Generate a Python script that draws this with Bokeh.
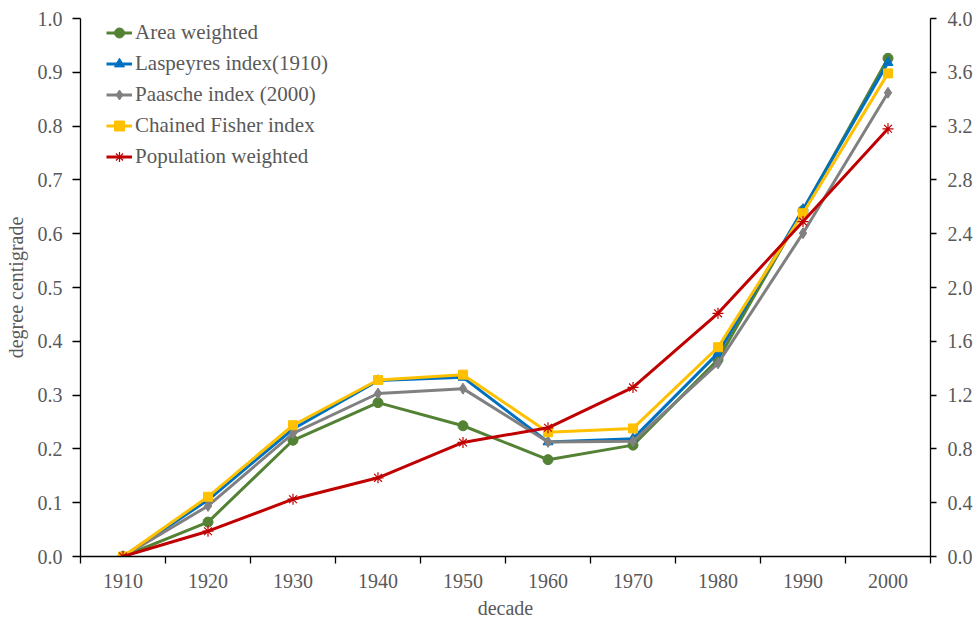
from bokeh.plotting import figure
from bokeh.models import Range1d, LinearAxis, FixedTicker, NumeralTickFormatter, Legend, LegendItem
from bokeh.embed import file_html
from bokeh.resources import INLINE

decades = [1910, 1920, 1930, 1940, 1950, 1960, 1970, 1980, 1990, 2000]
area = [0, 0.064, 0.216, 0.286, 0.243, 0.180, 0.207, 0.366, 0.643, 0.926]
lasp = [0, 0.105, 0.237, 0.327, 0.333, 0.213, 0.219, 0.378, 0.645, 0.918]
paasche = [0, 0.094, 0.229, 0.303, 0.312, 0.213, 0.214, 0.359, 0.601, 0.862]
fisher = [0, 0.111, 0.244, 0.328, 0.338, 0.231, 0.238, 0.389, 0.638, 0.898]
pop = [0, 0.188, 0.426, 0.585, 0.848, 0.957, 1.257, 1.808, 2.49, 3.18]

left_ticks = [round(i * 0.1, 1) for i in range(11)]
right_ticks = [round(i * 0.4, 1) for i in range(11)]
x_bounds = [1905 + 10 * i for i in range(11)]

FONT = "'Liberation Serif', 'Times New Roman', serif"
TXT = "#595959"
FS = "20px"

p = figure(width=976, height=631, output_backend="svg", toolbar_location=None,
           x_range=Range1d(1905, 2005), y_range=Range1d(0, 1.0),
           min_border_left=80, min_border_right=46, min_border_top=18, min_border_bottom=75)
p.extra_y_ranges = {"right": Range1d(0, 4.0)}
p.outline_line_color = None
p.xgrid.visible = False
p.ygrid.visible = False
p.background_fill_color = "white"

# x axis
xa = p.xaxis[0]
xa.ticker = FixedTicker(ticks=decades, minor_ticks=x_bounds)
xa.formatter = NumeralTickFormatter(format="0")
xa.major_tick_out = 0
xa.major_tick_in = 0
xa.minor_tick_out = 7
xa.minor_tick_in = 0
xa.minor_tick_line_color = "black"
xa.axis_line_color = "black"
xa.major_label_standoff = 10
xa.axis_label = "decade"
xa.axis_label_standoff = 6

# left y axis
ya = p.yaxis[0]
ya.ticker = FixedTicker(ticks=left_ticks)
ya.formatter = NumeralTickFormatter(format="0.0")
ya.major_tick_out = 8
ya.major_tick_in = 0
ya.minor_tick_line_color = None
ya.axis_line_color = "black"
ya.major_label_standoff = 10
ya.axis_label = "degree centigrade"
ya.axis_label_standoff = 8

# right y axis
ra = LinearAxis(y_range_name="right")
ra.ticker = FixedTicker(ticks=right_ticks)
ra.formatter = NumeralTickFormatter(format="0.0")
ra.major_tick_out = 6
ra.major_tick_in = 0
ra.minor_tick_line_color = None
ra.axis_line_color = "black"
ra.major_label_standoff = 11
p.add_layout(ra, "right")

for ax in [xa, ya, ra]:
    ax.major_label_text_font = FONT
    ax.major_label_text_font_size = FS
    ax.major_label_text_color = TXT
    ax.axis_label_text_font = FONT
    ax.axis_label_text_font_size = FS
    ax.axis_label_text_color = TXT
    ax.axis_label_text_font_style = "normal"
    ax.axis_line_width = 1.3
    ax.major_tick_line_width = 1.3
    ax.minor_tick_line_width = 1.3

series = [
    ("Area weighted", area, "#548235", "circle", 10, None),
    ("Laspeyres index(1910)", lasp, "#0070C0", "triangle", 10, None),
    ("Paasche index (2000)", paasche, "#808080", "diamond", 11, None),
    ("Chained Fisher index", fisher, "#FFC000", "square", 9, None),
    ("Population weighted", pop, "#C00000", "asterisk", 11, "right"),
]

items = []
for label, ys, color, marker, size, rng in series:
    kw = {}
    if rng:
        kw["y_range_name"] = rng
    r1 = p.line(decades, ys, line_color=color, line_width=3, **kw)
    if marker == "asterisk":
        r2 = p.scatter(decades, ys, marker=marker, size=size, line_color=color, line_width=1.2, **kw)
    else:
        r2 = p.scatter(decades, ys, marker=marker, size=size, fill_color=color, line_color=color, **kw)
    items.append(LegendItem(label=label, renderers=[r1, r2]))

legend = Legend(items=items, location=(26, 387))
legend.border_line_color = None
legend.background_fill_alpha = 0
legend.padding = 0
legend.margin = 0
legend.spacing = 6
legend.glyph_width = 26
legend.glyph_height = 25
legend.label_height = 25
legend.label_standoff = 3
legend.label_text_font = FONT
legend.label_text_font_size = "21px"
legend.label_text_color = TXT
p.add_layout(legend)

open("out.html", "w").write(file_html(p, INLINE))
